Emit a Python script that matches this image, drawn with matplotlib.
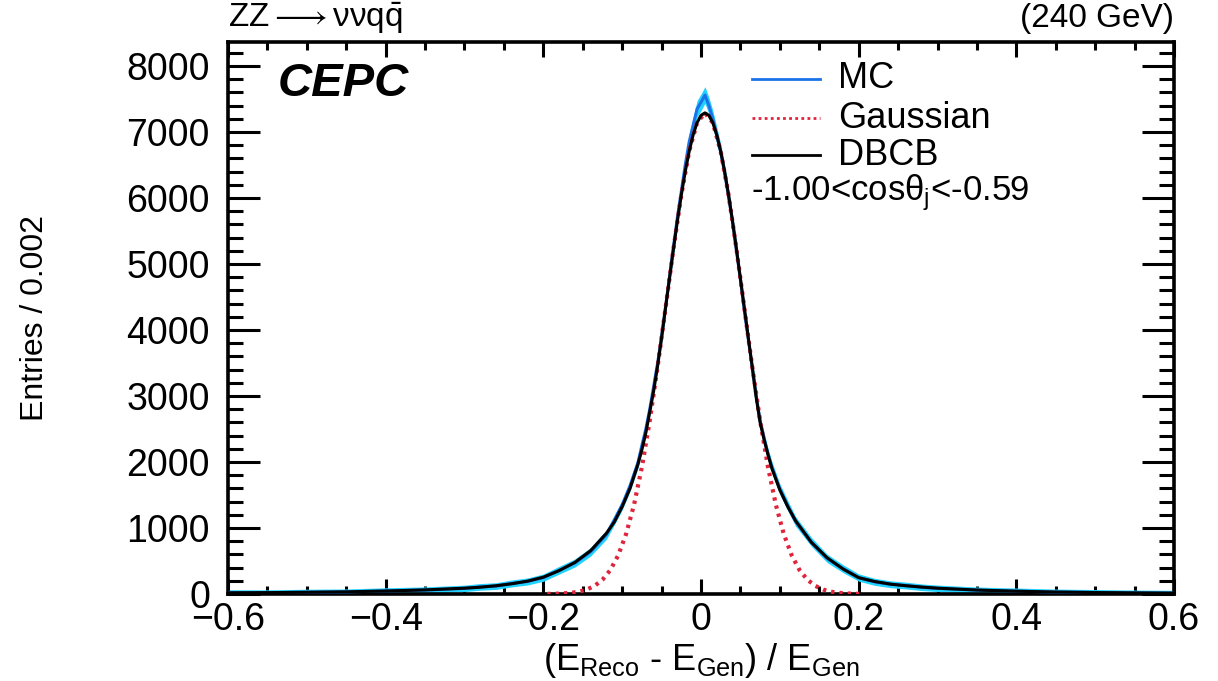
import numpy as np
import matplotlib
matplotlib.use("Agg")
import matplotlib.pyplot as plt
from matplotlib.ticker import MultipleLocator

plt.rcParams['font.family'] = ['Liberation Sans', 'DejaVu Sans']
plt.rcParams['mathtext.fontset'] = 'custom'
plt.rcParams['mathtext.rm'] = 'Liberation Sans'
plt.rcParams['mathtext.it'] = 'Liberation Sans'
plt.rcParams['mathtext.bf'] = 'Liberation Sans:bold'

# ---- data ----
fit_x = [-0.60, -0.55, -0.50, -0.45, -0.40, -0.35, -0.30, -0.28, -0.26, -0.24,
         -0.22, -0.20, -0.18, -0.16, -0.14, -0.12, -0.11, -0.10, -0.09, -0.08,
         -0.075, -0.07, -0.065, -0.06, -0.055, -0.05, -0.045, -0.04, -0.035, -0.03,
         -0.025, -0.02, -0.015, -0.01, -0.005, 0.0, 0.005, 0.01, 0.015, 0.02,
         0.025, 0.03, 0.035, 0.04, 0.045, 0.05, 0.055, 0.06, 0.065, 0.07,
         0.075, 0.08, 0.085, 0.09, 0.10, 0.11, 0.12, 0.14, 0.16, 0.18,
         0.20, 0.22, 0.24, 0.26, 0.28, 0.30, 0.35, 0.40, 0.45, 0.50, 0.55, 0.60]

dbcb_y = [18, 21, 26, 33, 45, 62, 88, 103, 125, 155,
          195, 255, 354, 479, 657, 920, 1090, 1323, 1601, 1964,
          2186, 2440, 2760, 3080, 3460, 3883, 4332, 4781, 5224, 5648,
          6044, 6400, 6707, 6956, 7140, 7252, 7290, 7252, 7140, 6956,
          6707, 6400, 6044, 5648, 5224, 4781, 4332, 3883, 3444, 2980,
          2600, 2340, 2110, 1900, 1576, 1323, 1109, 781, 549, 380,
          247, 190, 150, 125, 105, 88, 60, 42, 30, 22, 17, 13]

mc_y = [20, 19, 27, 31, 47, 60, 85, 108, 120, 160,
        190, 248, 360, 470, 640, 900, 1120, 1350, 1640, 1990,
        2250, 2500, 2800, 3150, 3500, 3900, 4350, 4800, 5250, 5700,
        6100, 6500, 6850, 7100, 7350, 7450, 7560, 7400, 7200, 6950,
        6700, 6380, 6020, 5640, 5200, 4760, 4300, 3860, 3430, 3000,
        2620, 2360, 2120, 1920, 1590, 1340, 1100, 790, 540, 385,
        250, 185, 148, 128, 102, 86, 58, 44, 29, 23, 16, 12]

gaus_x = [-0.195, -0.185, -0.175, -0.165, -0.155, -0.145, -0.135, -0.125, -0.115, -0.105,
          -0.095, -0.085, -0.075, -0.065, -0.055, -0.045, -0.035, -0.025, -0.015, -0.005,
          0.005, 0.015, 0.025, 0.035, 0.045, 0.055, 0.065, 0.075, 0.085, 0.095,
          0.105, 0.115, 0.125, 0.135, 0.145, 0.155, 0.165, 0.175, 0.185, 0.195, 0.205]
gaus_y = [2, 4, 9, 18, 35, 67, 123, 216, 363, 587,
          909, 1350, 1922, 2627, 3444, 4332, 5224, 6044, 6707, 7140,
          7290, 7140, 6707, 6044, 5224, 4332, 3444, 2627, 1922, 1350,
          909, 587, 363, 216, 123, 67, 35, 18, 9, 4, 2]

x_ticks = [-0.6, -0.4, -0.2, 0, 0.2, 0.4, 0.6]
x_ticklabels = ['\u22120.6', '\u22120.4', '\u22120.2', '0', '0.2', '0.4', '0.6']
y_ticks = [0, 1000, 2000, 3000, 4000, 5000, 6000, 7000, 8000]

# ---- figure ----
W, H = 1218, 681
fig = plt.figure(figsize=(W / 100, H / 100), dpi=100)
L, R, B, T = 228, 1174, 594, 42
ax = fig.add_axes([L / W, (H - B) / H, (R - L) / W, (B - T) / H])

mc_x = np.array(fit_x)
mc = np.array(mc_y, dtype=float)
err = np.sqrt(mc)
ax.fill_between(mc_x, mc - err - 40, mc + err + 40, color='#22d3ff', lw=0, zorder=2)
ax.plot(mc_x, mc, color='#1a73e8', lw=2.2, zorder=3)
ax.plot(gaus_x, gaus_y, color='#e0243c', lw=3, linestyle=(0, (0.8, 1.2)), zorder=4)
ax.plot(fit_x, dbcb_y, color='black', lw=2.2, zorder=5)

ax.set_xlim(-0.6, 0.6)
ax.set_ylim(0, 8364)
ax.set_xticks(x_ticks)
ax.set_xticklabels(x_ticklabels)
ax.set_yticks(y_ticks)
ax.xaxis.set_minor_locator(MultipleLocator(0.05))
ax.yaxis.set_minor_locator(MultipleLocator(200))

for s in ax.spines.values():
    s.set_linewidth(2.6)
ax.tick_params(axis='both', which='both', direction='in', top=True, right=True,
               width=2.2, labelsize=27)
ax.tick_params(axis='x', which='major', length=11, pad=6)
ax.tick_params(axis='x', which='minor', length=6)
ax.tick_params(axis='y', which='major', length=23, pad=13)
ax.tick_params(axis='y', which='minor', length=11)

ax.set_ylabel('Entries / 0.002', fontsize=23)
ax.yaxis.set_label_coords(-0.188, 0.5)
ax.set_xlabel(r'(E$_{\mathrm{Reco}}$ - E$_{\mathrm{Gen}}$) / E$_{\mathrm{Gen}}$', fontsize=26)
ax.xaxis.set_label_coords(0.5, -0.085)

# CEPC label
ax.text(0.053, 0.924, 'CEPC', transform=ax.transAxes, fontsize=34,
        fontweight='bold', fontstyle='italic', va='center', ha='left')

# legend (manual)
leg_y = [0.933, 0.862, 0.795]
ax.plot([0.554, 0.626], [leg_y[0]] * 2, transform=ax.transAxes, color='#1a73e8', lw=2, zorder=6)
ax.plot([0.554, 0.626], [leg_y[1]] * 2, transform=ax.transAxes, color='#e0243c', lw=2,
        linestyle=(0, (1, 1.2)), zorder=6)
ax.plot([0.554, 0.626], [leg_y[2]] * 2, transform=ax.transAxes, color='black', lw=2, zorder=6)
for yy, lab in zip(leg_y, ['MC', 'Gaussian', 'DBCB']):
    ax.text(0.645, yy, lab, transform=ax.transAxes, fontsize=26, va='center', ha='left')
ax.text(0.553, 0.728, r'-1.00<cos$\theta_{\mathrm{j}}$<-0.59', transform=ax.transAxes,
        fontsize=25, va='center', ha='left')

# header texts
fig.text(L / W, 1 - 18 / H, r'ZZ$\longrightarrow\nu\nu \mathrm{q}\bar{\mathrm{q}}$', fontsize=24,
         va='center', ha='left')
fig.text(R / W, 1 - 18 / H, '(240 GeV)', fontsize=24, va='center', ha='right')

fig.savefig('out.png', dpi=100)
